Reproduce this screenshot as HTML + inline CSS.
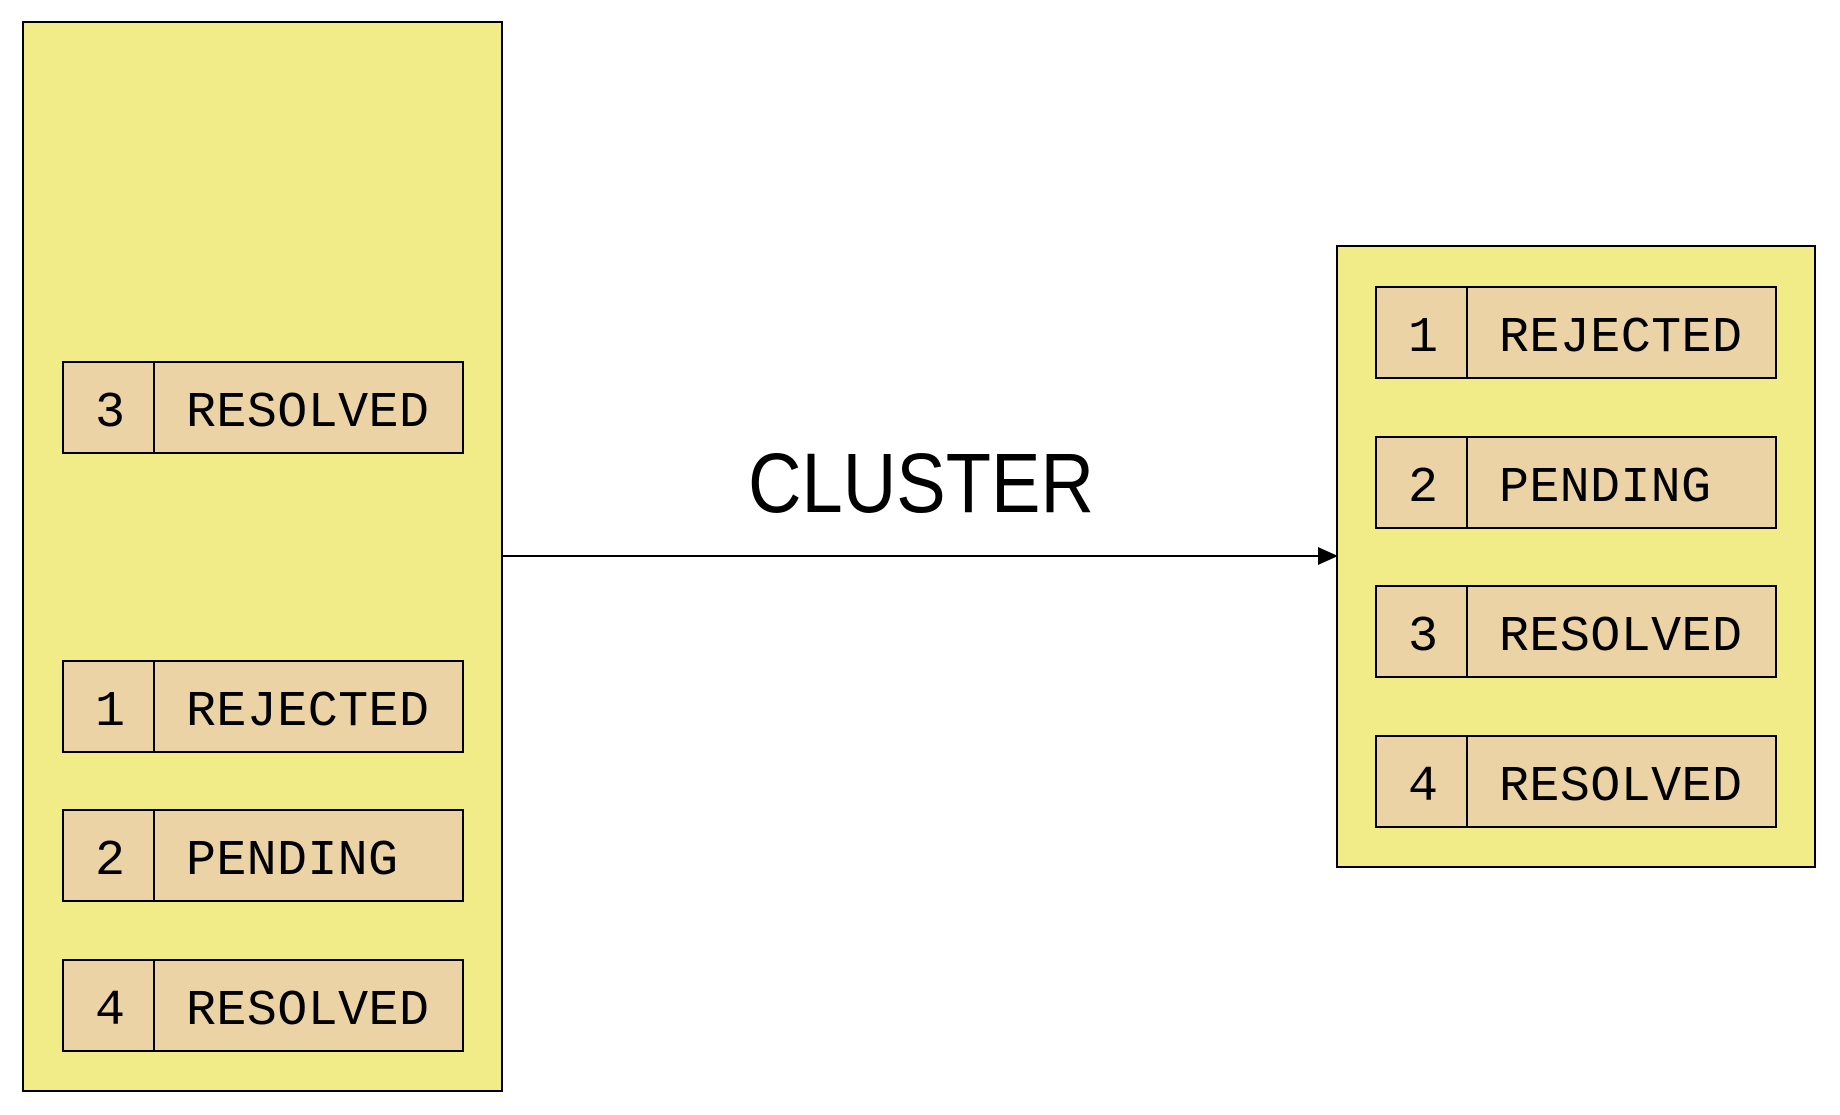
<!DOCTYPE html>
<html><head><meta charset="utf-8"><style>html,body{margin:0;padding:0;background:#fff;}svg{display:block}</style></head>
<body>
<svg width="1840" height="1115" viewBox="0 0 1840 1115" xmlns="http://www.w3.org/2000/svg">
<rect x="23" y="22" width="479" height="1069" fill="#f2ec88" stroke="#000" stroke-width="2"/>
<rect x="1337" y="246" width="478" height="621" fill="#f2ec88" stroke="#000" stroke-width="2"/>
<g font-family="'Liberation Mono', monospace" font-size="50" fill="#000">
<g transform="translate(63,362)">
<rect x="0" y="0" width="400" height="91" fill="#ebd3a6" stroke="#000" stroke-width="2"/><line x1="91" y1="0" x2="91" y2="91" stroke="#000" stroke-width="2"/>
<text x="47" y="64" text-anchor="middle">3</text><text x="123" y="64" textLength="243">RESOLVED</text></g>
<g transform="translate(63,661)">
<rect x="0" y="0" width="400" height="91" fill="#ebd3a6" stroke="#000" stroke-width="2"/><line x1="91" y1="0" x2="91" y2="91" stroke="#000" stroke-width="2"/>
<text x="47" y="64" text-anchor="middle">1</text><text x="123" y="64" textLength="243">REJECTED</text></g>
<g transform="translate(63,810)">
<rect x="0" y="0" width="400" height="91" fill="#ebd3a6" stroke="#000" stroke-width="2"/><line x1="91" y1="0" x2="91" y2="91" stroke="#000" stroke-width="2"/>
<text x="47" y="64" text-anchor="middle">2</text><text x="123" y="64" textLength="212">PENDING</text></g>
<g transform="translate(63,960)">
<rect x="0" y="0" width="400" height="91" fill="#ebd3a6" stroke="#000" stroke-width="2"/><line x1="91" y1="0" x2="91" y2="91" stroke="#000" stroke-width="2"/>
<text x="47" y="64" text-anchor="middle">4</text><text x="123" y="64" textLength="243">RESOLVED</text></g>

<g transform="translate(1376,287)">
<rect x="0" y="0" width="400" height="91" fill="#ebd3a6" stroke="#000" stroke-width="2"/><line x1="91" y1="0" x2="91" y2="91" stroke="#000" stroke-width="2"/>
<text x="47" y="64" text-anchor="middle">1</text><text x="123" y="64" textLength="243">REJECTED</text></g>
<g transform="translate(1376,437)">
<rect x="0" y="0" width="400" height="91" fill="#ebd3a6" stroke="#000" stroke-width="2"/><line x1="91" y1="0" x2="91" y2="91" stroke="#000" stroke-width="2"/>
<text x="47" y="64" text-anchor="middle">2</text><text x="123" y="64" textLength="212">PENDING</text></g>
<g transform="translate(1376,586)">
<rect x="0" y="0" width="400" height="91" fill="#ebd3a6" stroke="#000" stroke-width="2"/><line x1="91" y1="0" x2="91" y2="91" stroke="#000" stroke-width="2"/>
<text x="47" y="64" text-anchor="middle">3</text><text x="123" y="64" textLength="243">RESOLVED</text></g>
<g transform="translate(1376,736)">
<rect x="0" y="0" width="400" height="91" fill="#ebd3a6" stroke="#000" stroke-width="2"/><line x1="91" y1="0" x2="91" y2="91" stroke="#000" stroke-width="2"/>
<text x="47" y="64" text-anchor="middle">4</text><text x="123" y="64" textLength="243">RESOLVED</text></g>
</g>
<line x1="501" y1="556" x2="1320" y2="556" stroke="#000" stroke-width="2"/>
<polygon points="1338,556 1318,547 1318,565" fill="#000"/>
<text x="921" y="512" text-anchor="middle" font-family="'Liberation Sans', sans-serif" font-size="84" textLength="346" lengthAdjust="spacingAndGlyphs" fill="#000">CLUSTER</text>
</svg>
</body></html>
